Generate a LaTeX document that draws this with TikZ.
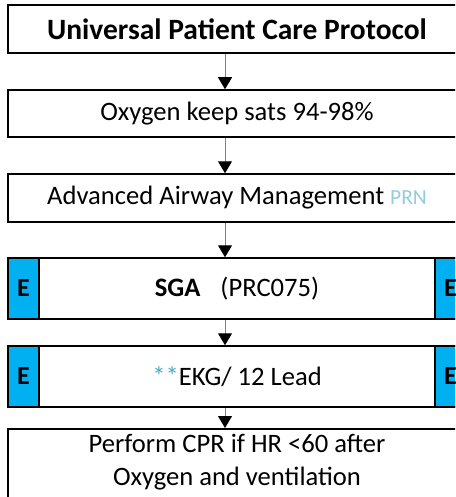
\documentclass[tikz,border=0pt]{standalone}
\usepackage{fontspec}
\setmainfont{Carlito}
\usetikzlibrary{arrows.meta}
\definecolor{ecyan}{HTML}{00B0F0}
\definecolor{prnblue}{HTML}{92CDDC}
\definecolor{starblue}{HTML}{4BACC6}
\begin{document}
\begin{tikzpicture}[x=1pt,y=1pt,
  box/.style={draw=black,line width=1.5pt,fill=white,minimum width=458pt,inner sep=0pt,font=\fontsize{26.6}{30}\selectfont},
  ebox/.style={draw=black,line width=1.5pt,fill=ecyan,minimum width=31pt,inner sep=0pt,font=\fontsize{26}{30}\selectfont\bfseries},
  arr/.style={draw=black!50,line width=1pt,-{Triangle[width=14pt,length=12pt,color=black,fill=black]}}]
\useasboundingbox (0,-497) rectangle (455,0);
\clip (0,-497) rectangle (455,0);
\coordinate (ax) at (225,0);
\node[box,minimum height=48pt,font=\fontsize{29.5}{32}\selectfont\bfseries] (b1) at (237,-29) {Universal Patient Care Protocol};
\node[box,minimum height=47pt] (b2) at (237,-113.5) {Oxygen keep sats 94-98\%};
\node[box,minimum height=48pt] (b3) at (237,-198) {Advanced Airway Management {\color{prnblue}\fontsize{21.5}{24}\selectfont PRN}};
\node[box,minimum height=61pt] (b4) at (237,-288.5) {\textbf{SGA}\hspace{20pt}(PRC075)};
\node[ebox,minimum height=61pt,anchor=west] (e4l) at (b4.west) {E};
\node[ebox,minimum height=61pt,anchor=east] (e4r) at (b4.east) {E};
\node[box,minimum height=61pt] (b5) at (237,-376.5) {{\color{starblue}**}EKG/ 12 Lead};
\node[ebox,minimum height=61pt,anchor=west] (e5l) at (b5.west) {E};
\node[ebox,minimum height=61pt,anchor=east] (e5r) at (b5.east) {E};
\node[box,minimum height=82pt,anchor=north] (b6) at (237,-428) {};
\node[font=\fontsize{26.6}{33}\selectfont,align=center,inner sep=0pt] (t6) at (237,-462.5) {Perform CPR if HR <60 after\\Oxygen and ventilation};
\draw[arr] (b1.south -| ax) -- (b2.north -| ax);
\draw[arr] (b2.south -| ax) -- (b3.north -| ax);
\draw[arr] (b3.south -| ax) -- (b4.north -| ax);
\draw[arr] (b4.south -| ax) -- (b5.north -| ax);
\draw[arr] (b5.south -| ax) -- (b6.north -| ax);
\end{tikzpicture}
\end{document}
